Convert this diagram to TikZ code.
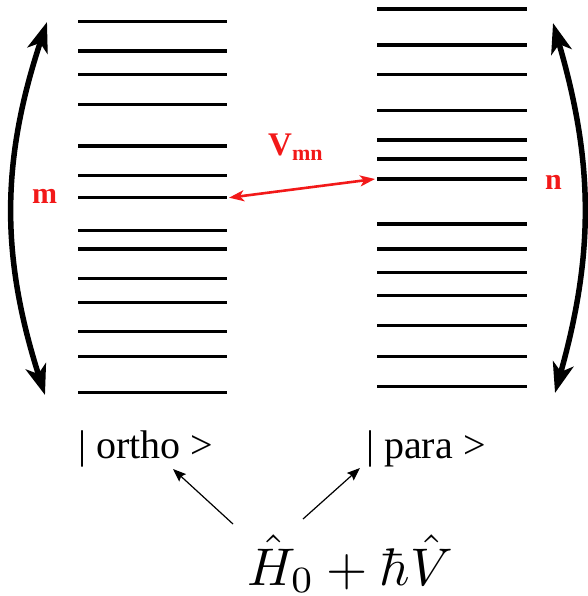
\documentclass[tikz,border=0pt]{standalone}
\usepackage[no-math]{fontspec}
\setmainfont{Liberation Serif}
\usetikzlibrary{arrows.meta,positioning}
\definecolor{vred}{rgb}{0.95,0.1,0.1}

\tikzset{
  level/.style={line width=3.3pt},
  span/.style={line width=5.5pt, {Stealth[length=30pt,width=21pt,inset=8pt]}-{Stealth[length=30pt,width=21pt,inset=8pt]}},
  coupling/.style={vred, line width=2.6pt, {Stealth[length=15pt,width=11pt,inset=4pt]}-{Stealth[length=15pt,width=11pt,inset=4pt]}},
  pointer/.style={line width=1.2pt, -{Stealth[length=13pt,width=10pt,inset=2pt]}},
  redlab/.style={text=vred, inner sep=0pt, anchor=base west, font=\fontsize{30}{32}\selectfont\bfseries},
  ket/.style={inner sep=0pt, anchor=base west, font=\fontsize{40}{44}\selectfont},
}

\begin{document}
\begin{tikzpicture}[x=1pt,y=-1pt]
    \useasboundingbox (0,0) rectangle (587,596);

    % ortho levels
    \foreach \y in {21.7,51,74.7,104.3,146,175.7,197.7,230.3,249,278.7,302.3,331.7,356.7,392.7}
        \draw[level] (78,\y) -- (227,\y);
    % para levels
    \foreach \y in {9,45,74.7,110.3,140,159,179,224,249,272.7,295.7,325.3,356.7,386.7}
        \draw[level] (377,\y) -- (527,\y);

    \coordinate (mtop) at (47,22);
    \coordinate (mbot) at (45,395);
    \coordinate (ntop) at (553,23);
    \coordinate (nbot) at (555,393);
    \draw[span] (mtop) to[bend right=18] (mbot);
    \draw[span] (ntop) to[bend left=16] (nbot);

    \node[redlab] (m) at (32,203) {m};
    \node[redlab] (n) at (545,189) {n};

    \coordinate (mlev) at (229,197.7);
    \coordinate (nlev) at (375,179);
    \draw[coupling] (mlev) -- (nlev);
    \node[redlab, font=\fontsize{33}{36}\selectfont\bfseries] (vmn) at (268,156)
        {V\raisebox{-5pt}{\fontsize{22}{24}\selectfont mn}};

    \node[ket] (ortho) at (78,458) {| ortho >};
    \node[ket] (para) at (366,458) {| para >};

    \node[scale=5.3, inner sep=0pt, anchor=base] (ham) at (350,585) {$\hat{H}_0+\hbar\hat{V}$};

    \coordinate (hl) at (233,524);
    \coordinate (hr) at (303,519);
    \coordinate (ol) at (173,469);
    \coordinate (pl) at (360,468);
    \draw[pointer] (hl) -- (ol);
    \draw[pointer] (hr) -- (pl);
\end{tikzpicture}
\end{document}
